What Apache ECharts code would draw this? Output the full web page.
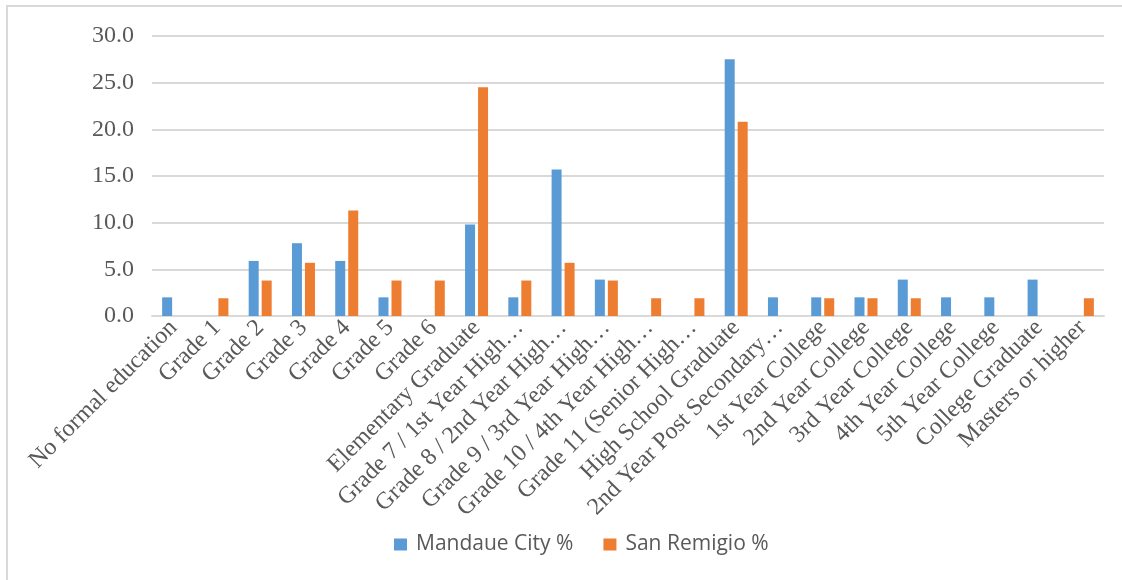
<!DOCTYPE html>
<html>
<head>
<meta charset="utf-8">
<script src="https://cdn.jsdelivr.net/npm/echarts@6/dist/echarts.min.js"></script>
<style>
  html, body { margin: 0; padding: 0; background: #fff; }
  #frame {
    position: absolute; left: 6px; top: 5px; right: 0; bottom: 0;
    border-top: 2px solid #d9d9d9; border-left: 2px solid #d9d9d9;
  }
  #chart { position: absolute; left: 0; top: 0; width: 1122px; height: 580px; }
</style>
</head>
<body>
<div id="frame"></div>
<div id="chart"></div>
<script>
// categories (labels as shown, truncated ones keep their ellipsis)
const categories = [
  'No formal education', 'Grade 1', 'Grade 2', 'Grade 3', 'Grade 4', 'Grade 5', 'Grade 6',
  'Elementary Graduate', 'Grade 7 / 1st Year High…', 'Grade 8 / 2nd Year High…',
  'Grade 9 / 3rd Year High…', 'Grade 10 / 4th Year High…', 'Grade 11 (Senior High…',
  'High School Graduate', '2nd Year Post Secondary…', '1st Year College', '2nd Year College',
  '3rd Year College', '4th Year College', '5th Year College', 'College Graduate', 'Masters or higher'
]
const mandaue = [2.0, 0, 5.9, 7.8, 5.9, 2.0, 0, 9.8, 2.0, 15.7, 3.9, 0, 0, 27.5, 2.0, 2.0, 2.0, 3.9, 2.0, 2.0, 3.9, 0]
const sanRemigio = [0, 1.9, 3.8, 5.7, 11.3, 3.8, 3.8, 24.5, 3.8, 5.7, 3.8, 1.9, 1.9, 20.8, 0, 1.9, 1.9, 1.9, 0, 0, 0, 1.9]
const yTicks = [0, 5, 10, 15, 20, 25, 30]

const chart = echarts.init(document.getElementById('chart'))

chart.setOption({
  animation: false,
  grid: { left: 152, right: 18, top: 36, bottom: 264 },
  legend: {
    bottom: 20,
    left: 389,
    itemWidth: 13,
    itemHeight: 12,
    itemGap: 30,
    icon: 'rect',
    textStyle: { fontFamily: 'Open Sans', fontSize: 21, color: '#595959', padding: [0, 0, 0, 4] },
    data: ['Mandaue City %', 'San Remigio %']
  },
  xAxis: {
    type: 'category',
    data: categories,
    axisLine: { lineStyle: { color: '#d9d9d9', width: 2 } },
    axisTick: { show: false },
    axisLabel: {
      interval: 0,
      rotate: 45,
      margin: 8,
      fontFamily: 'Liberation Serif',
      fontSize: 24,
      color: '#595959'
    }
  },
  yAxis: {
    type: 'value',
    min: yTicks[0],
    max: yTicks[yTicks.length - 1],
    interval: 5,
    axisLine: { show: false },
    axisTick: { show: false },
    splitLine: { lineStyle: { color: '#d9d9d9', width: 2 } },
    axisLabel: {
      margin: 18,
      fontFamily: 'Liberation Serif',
      fontSize: 24,
      color: '#595959',
      formatter: v => v.toFixed(1)
    }
  },
  series: [
    {
      name: 'Mandaue City %',
      type: 'bar',
      data: mandaue,
      barWidth: 10,
      barGap: '30%',
      itemStyle: { color: '#5b9bd5' }
    },
    {
      name: 'San Remigio %',
      type: 'bar',
      data: sanRemigio,
      barWidth: 10,
      itemStyle: { color: '#ed7d31' }
    }
  ]
})
</script>
</body>
</html>
